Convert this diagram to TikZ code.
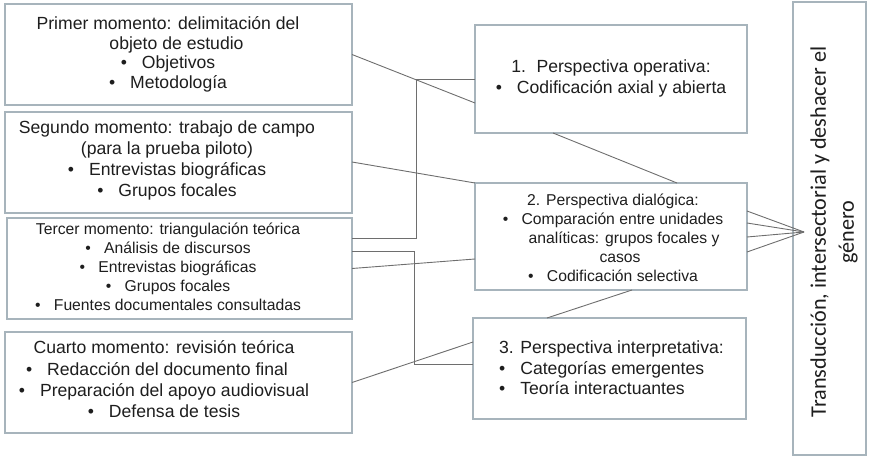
\documentclass[tikz,border=0pt]{standalone}
\usepackage{fontspec}
\setmainfont{Liberation Sans}
\newfontfamily\calib{Carlito}
\definecolor{boxline}{HTML}{A7B4BC}
\definecolor{conline}{HTML}{6E6E6E}
\definecolor{txt}{HTML}{1E1E1E}
\newcommand{\bl}{•\hspace{0.85em}}
\begin{document}
\begin{tikzpicture}[x=1pt,y=-1pt,
  box/.style={draw=boxline,line width=1.2pt,rectangle,inner sep=0pt,outer sep=0pt,fill=white},
  con/.style={draw=conline,line width=0.9pt},
  lbl/.style={text=txt,inner sep=0pt,align=center}]
\useasboundingbox (0,0) rectangle (874,462);
% boxes
\node[box,minimum width=347pt,minimum height=101pt] (b1) at (178.5,54.5) {};
\node[box,minimum width=347pt,minimum height=101pt] (b2) at (178.5,162.5) {};
\node[box,minimum width=345pt,minimum height=101pt] (b3) at (179.5,268.5) {};
\node[box,minimum width=347pt,minimum height=101pt] (b4) at (178.5,382.5) {};
\node[box,minimum width=272pt,minimum height=108pt] (p1) at (611,79) {};
\node[box,minimum width=272pt,minimum height=107pt] (p2) at (611,236.5) {};
\node[box,minimum width=273pt,minimum height=101pt] (p3) at (609.5,368.5) {};
\node[box,minimum width=73pt,minimum height=453pt] (r) at (829.5,228.5) {};
\coordinate (fan) at (804,232);
% connectors
\draw[con] (b1.east) -- ([yshift=-24pt]p1.west);
\draw[con] ([yshift=30.5pt]b3.east) -- ++(64,0) |- (p1.west);
\draw[con] ([yshift=0.5pt]b2.east) -- (p2.north west);
\draw[con] ([yshift=17.5pt]b3.east) -- ++(62,0) |- ([yshift=4.5pt]p3.west);
\draw[con] (b3.east) -- ([yshift=-22.5pt]p2.west);
\draw[con] (b4.east) -- ([yshift=26.5pt]p3.west);
\draw[con] ([xshift=-58pt]p1.south) -- ([xshift=66pt]p2.north);
\draw[con] ([xshift=21pt]p2.south) -- ([xshift=-62.5pt]p3.north);
\draw[con] ([yshift=25.5pt]p2.east) -- (fan);
\draw[con] ([yshift=13.5pt]p2.east) -- (fan);
\draw[con] ([yshift=-0.5pt]p2.east) -- (fan);
\draw[con] ([yshift=-15.5pt]p2.east) -- (fan);
% texts
\node[lbl,font=\fontsize{17.6}{19.5}\selectfont] (t1) at (168,54.5)
 {Primer momento: delimitación del\\\hspace*{17pt}objeto de estudio\\\bl Objetivos\\\bl Metodología};
\node[lbl,font=\fontsize{17.6}{20.8}\selectfont] (t2) at (167,160.5)
 {Segundo momento: trabajo de campo\\(para la prueba piloto)\\\bl Entrevistas biográficas\\\bl Grupos focales};
\node[lbl,font=\fontsize{15.7}{19}\selectfont] (t3) at (168,266.5)
 {Tercer momento: triangulación teórica\\\bl Análisis de discursos\\\bl Entrevistas biográficas\\\bl Grupos focales\\\bl Fuentes documentales consultadas};
\node[lbl,font=\fontsize{17.6}{21.3}\selectfont] (t4) at (164,379.5)
 {Cuarto momento: revisión teórica\\\hspace*{-14pt}\bl Redacción del documento final\\\bl Preparación del apoyo audiovisual\\\bl Defensa de tesis};
\node[lbl,font=\fontsize{17.6}{21}\selectfont] (t5) at (611,78)
 {1.\hspace{0.6em}Perspectiva operativa:\\\bl Codificación axial y abierta};
\node[lbl,font=\fontsize{15.7}{19}\selectfont] (t6) at (613,237.5)
 {2. Perspectiva dialógica:\\\bl Comparación entre unidades\\\hspace*{22pt}analíticas: grupos focales y\\\hspace*{14pt}casos\\\bl Codificación selectiva};
\node[lbl,align=left,anchor=west,font=\fontsize{17.6}{20.5}\selectfont] (t7) at (499,368)
 {3. Perspectiva interpretativa:\\\bl Categorías emergentes\\\bl Teoría interactuantes};
\node[lbl,rotate=90,font=\calib\fontsize{22.2}{28}\selectfont] (t8) at (834,232)
 {Transducción, intersectorial y deshacer el\\género};
\end{tikzpicture}
\end{document}
